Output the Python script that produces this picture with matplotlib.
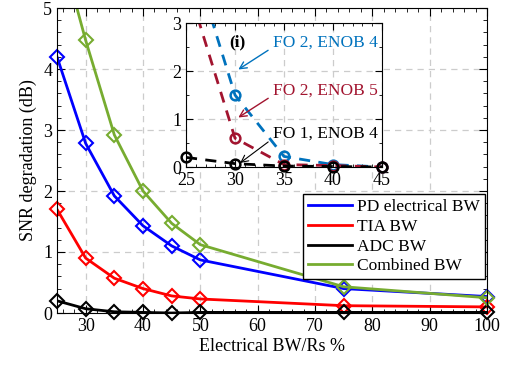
import numpy as np
import matplotlib
matplotlib.use("Agg")
import matplotlib.pyplot as plt
from matplotlib.ticker import MultipleLocator

plt.rcParams['font.family'] = ['Liberation Serif', 'DejaVu Serif']
plt.rcParams['mathtext.fontset'] = 'stix'

# main plot data
bw = [25, 30, 35, 40, 45, 50, 75, 100]
pd_bw = [4.2, 2.78, 1.92, 1.43, 1.1, 0.87, 0.40, 0.27]
tia_bw = [1.7, 0.9, 0.57, 0.4, 0.28, 0.23, 0.12, 0.1]
adc_bw = [0.2, 0.07, 0.02, 0.01, 0.0, 0.01, 0.01, 0.01]
comb_bw = [6.2, 4.47, 2.92, 2.0, 1.47, 1.12, 0.43, 0.25]

# inset data
bw_in = [25, 30, 35, 40, 45]
fo2_enob4 = [4.8, 1.5, 0.22, 0.05, 0.0]
fo2_enob5 = [3.9, 0.6, 0.05, 0.03, 0.0]
fo1_enob4 = [0.2, 0.07, 0.02, 0.01, 0.0]

fig = plt.figure(figsize=(5.1, 3.68), dpi=100)
ax = fig.add_axes([57 / 510, 55 / 368, 430 / 510, 305 / 368])

series = [(pd_bw, '#0000ff', 'PD electrical BW'),
          (tia_bw, '#ff0000', 'TIA BW'),
          (adc_bw, '#000000', 'ADC BW'),
          (comb_bw, '#77ac30', 'Combined BW')]
for vals, c, lab in series:
    ax.plot(bw, vals, color=c, lw=2, label=lab)
    ax.plot(bw, vals, ls='none', marker='D', ms=7, mfc='none', mec=c, mew=1.5, clip_on=False)

ax.set_xlim(25, 100)
ax.set_ylim(0, 5)
ax.xaxis.set_major_locator(MultipleLocator(10))
ax.xaxis.set_minor_locator(MultipleLocator(2))
ax.yaxis.set_major_locator(MultipleLocator(1))
ax.yaxis.set_minor_locator(MultipleLocator(0.2))
ax.set_xticks(range(30, 101, 10))
ax.tick_params(which='both', direction='in', top=True, right=True, labelsize=13)
ax.tick_params(which='major', length=6)
ax.tick_params(which='minor', length=3)
ax.grid(True, ls=(0, (5, 4)), color='#cccccc', lw=0.9)
ax.set_xlabel('Electrical BW/Rs %', fontsize=13, labelpad=2)
ax.set_ylabel('SNR degradation (dB)', fontsize=13, labelpad=4)
ax.legend(loc='upper right', bbox_to_anchor=(0.995, 0.39), fontsize=12.5,
          fancybox=False, edgecolor='black', framealpha=1, handlelength=2.5,
          borderpad=0.3, labelspacing=0.2, handletextpad=0.3, borderaxespad=0)

# inset
axi = fig.add_axes([186 / 510, 201 / 368, 196 / 510, 144 / 368])
inset = [(fo2_enob4, '#0072bd'), (fo2_enob5, '#a2142f'), (fo1_enob4, '#000000')]
for vals, c in inset:
    axi.plot(bw_in, vals, color=c, lw=2, ls=(0, (4, 3)))
    shown = [(x, y) for x, y in zip(bw_in, vals) if y <= 3]
    axi.plot([p[0] for p in shown], [p[1] for p in shown], ls='none', marker='o',
             ms=7, mfc='none', mec=c, mew=1.8, clip_on=False)
axi.set_xlim(25, 45)
axi.set_ylim(0, 3)
axi.xaxis.set_major_locator(MultipleLocator(5))
axi.xaxis.set_minor_locator(MultipleLocator(1))
axi.yaxis.set_major_locator(MultipleLocator(1))
axi.yaxis.set_minor_locator(MultipleLocator(0.5))
axi.tick_params(which='both', direction='in', top=True, right=True, labelsize=13)
axi.tick_params(which='major', length=5)
axi.tick_params(which='minor', length=2.5)
axi.grid(True, ls=(0, (5, 4)), color='#cccccc', lw=0.9)
axi.text(29.4, 2.6, '(i)', fontsize=12.5, fontweight='bold', va='center')
axi.annotate('FO 2, ENOB 4', xy=(30.1, 2.0), xytext=(44.6, 2.6), color='#0072bd',
             fontsize=12.5, ha='right', va='center',
             arrowprops=dict(arrowstyle='->', color='#0072bd', lw=1,
                             relpos=(0, 0.2)))
axi.annotate('FO 2, ENOB 5', xy=(30.1, 1.0), xytext=(44.6, 1.6), color='#a2142f',
             fontsize=12.5, ha='right', va='center',
             arrowprops=dict(arrowstyle='->', color='#a2142f', lw=1,
                             relpos=(0, 0.2)))
axi.annotate('FO 1, ENOB 4', xy=(30.3, 0.05), xytext=(44.6, 0.7), color='black',
             fontsize=12.5, ha='right', va='center',
             arrowprops=dict(arrowstyle='->', color='black', lw=0.8,
                             relpos=(0, 0.2)))

fig.savefig('out.png', dpi=100)
